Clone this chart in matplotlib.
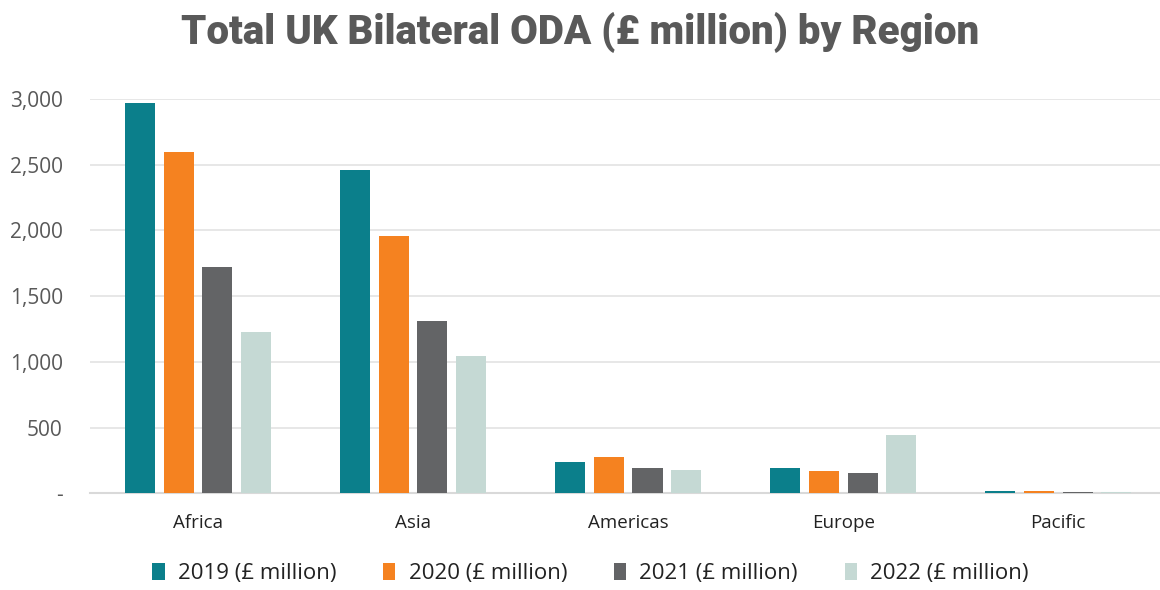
import numpy as np
import matplotlib
matplotlib.use('Agg')
import matplotlib.pyplot as plt
from matplotlib.ticker import FuncFormatter

# data
regions = ['Africa', 'Asia', 'Americas', 'Europe', 'Pacific']
years = ['2019 (£ million)', '2020 (£ million)', '2021 (£ million)', '2022 (£ million)']
oda_2019 = [2968, 2457, 239, 191, 20]
oda_2020 = [2594, 1961, 275, 168, 20]
oda_2021 = [1724, 1312, 191, 155, 10]
oda_2022 = [1228, 1045, 178, 443, 8]
colours = ['#0B7F8B', '#F58220', '#636466', '#C5D9D4']

plt.rcParams['font.family'] = ['Open Sans', 'DejaVu Sans']
grey_txt = '#595959'

fig = plt.figure(figsize=(11.6, 5.9), dpi=100)
ax = fig.add_axes([0.078, 0.164, 0.927, 0.668])

x = np.arange(len(regions))
width = 0.14
step = 0.18
for i, vals in enumerate([oda_2019, oda_2020, oda_2021, oda_2022]):
    ax.bar(x + (i - 1.5) * step, vals, width, color=colours[i], label=years[i], zorder=3)

ax.set_xlim(-0.5, 4.5)
ax.set_ylim(0, 3000)
ax.set_yticks(range(0, 3001, 500))
ax.yaxis.set_major_formatter(FuncFormatter(lambda v, p: '-' if v == 0 else f'{int(v):,}'))
ax.set_xticks(x)
ax.set_xticklabels(regions)
ax.grid(axis='y', color='#E3E3E3', linewidth=1.2, zorder=0)
for s in ['top', 'right', 'left']:
    ax.spines[s].set_visible(False)
ax.spines['bottom'].set_color('#D9D9D9')
ax.spines['bottom'].set_linewidth(1.5)
ax.spines['bottom'].set_zorder(2)
ax.tick_params(axis='y', length=0, labelsize=15, labelcolor=grey_txt, pad=20)
ax.tick_params(axis='x', length=0, labelsize=13.5, labelcolor='#222222', pad=15)

fig.suptitle('Total UK Bilateral ODA (£ million) by Region', x=0.5, y=0.98,
             fontsize=29, fontweight=900, color=grey_txt, family=['Roboto', 'DejaVu Sans'])

ax.legend(loc='upper center', bbox_to_anchor=(0.465, -0.125), ncol=4, frameon=False,
          fontsize=16, handlelength=0.55, handleheight=0.8, handletextpad=0.6,
          columnspacing=2.1, labelcolor='#222222')

fig.savefig('out.png', dpi=100)
